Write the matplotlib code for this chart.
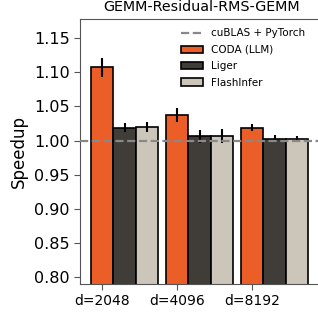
import matplotlib
matplotlib.use("Agg")
import matplotlib.pyplot as plt
import numpy as np

categories = ["d=2048", "d=4096", "d=8192"]
methods = ["CODA (LLM)", "Liger", "FlashInfer"]
coda = [1.107, 1.037, 1.019]
coda_err = [0.014, 0.010, 0.005]
liger = [1.019, 1.006, 1.003]
liger_err = [0.007, 0.010, 0.005]
flash = [1.020, 1.007, 1.003]
flash_err = [0.007, 0.010, 0.003]
colors = ["#EB5E28", "#403D39", "#CCC5B9"]
baseline_label = "cuBLAS + PyTorch"
yticks = [0.80, 0.85, 0.90, 0.95, 1.00, 1.05, 1.10, 1.15]

fig = plt.figure(figsize=(3.18, 3.14), dpi=100)
ax = fig.add_axes([0.2516, 0.0955, 0.765, 0.844])

x = np.arange(len(categories))
w = 0.3
series = [(coda, coda_err), (liger, liger_err), (flash, flash_err)]
for i, ((vals, errs), name, c) in enumerate(zip(series, methods, colors)):
    ax.bar(x + i * w, vals, w, yerr=errs, color=c, edgecolor="black", linewidth=1.2,
           label=name, error_kw=dict(ecolor="black", elinewidth=1.5, capsize=0), zorder=2)

ax.axhline(1.0, color="#888888", linestyle="--", linewidth=1.6, label=baseline_label, zorder=3)

ax.set_xlim(-0.295, 2.95)
ax.set_ylim(0.79, 1.178)
ax.set_yticks(yticks)
ax.set_yticklabels([f"{v:.2f}" for v in yticks], fontsize=11.5)
ax.set_xticks(x)
ax.set_xticklabels(categories, fontsize=10)
ax.set_ylabel("Speedup", fontsize=12)
ax.set_title("GEMM-Residual-RMS-GEMM", fontsize=10.3)
for s in ax.spines.values():
    s.set_color("#555555")
ax.tick_params(colors="#555555", labelcolor="black", length=4)

ax.legend(loc="upper right", bbox_to_anchor=(0.965, 1.0), frameon=False,
          fontsize=7.5, labelspacing=0.62, handlelength=2.1, handletextpad=0.8)

fig.savefig("out.png", dpi=100)
